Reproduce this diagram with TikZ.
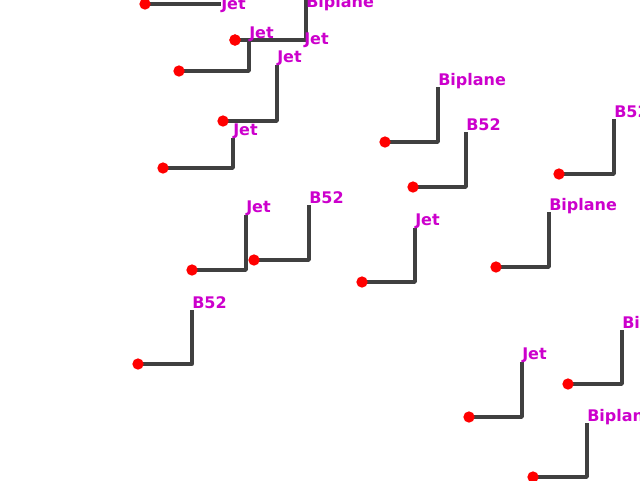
\documentclass[tikz,border=0pt]{standalone}
\usepackage{fontspec}
\setsansfont{DejaVu Sans}
\usetikzlibrary{positioning}
\definecolor{leadgray}{HTML}{404040}
\definecolor{tagpink}{HTML}{CC00CC}
\begin{document}
\begin{tikzpicture}[x=0.75pt,y=-0.75pt,line join=round,
    leader/.style={draw=leadgray,line width=2.5pt},
    blip/.style={circle,fill=red,inner sep=0pt,minimum size=8.5pt},
    tag/.style={anchor=base west,inner sep=0pt,text=tagpink,yshift=0.75pt,
      font=\sffamily\bfseries\fontsize{12}{12}\selectfont}]
  \clip (0,0) rectangle (640,480);
  % dot x/y, corner x, top y, label baseline y, kind
  \def\planes{1/145/4/221/4/10/Jet, 2/235/40/304/40/45/Jet, 3/235/40/306/-5/8/Biplane,
    4/179/71/249/41/39/Jet, 5/223/121/277/65/63/Jet, 6/163/168/233/138/136/Jet,
    7/385/142/438/87/86/Biplane, 8/413/187/466/132/131/B52, 9/559/174/614/119/118/B52,
    10/192/270/246/215/213/Jet, 11/254/260/309/205/204/B52, 12/362/282/415/228/226/Jet,
    13/138/364/192/310/309/B52, 14/496/267/549/212/211/Biplane, 15/568/384/622/330/329/Biplane,
    16/469/417/522/362/360/Jet, 17/533/477/587/423/422/Biplane}
  \foreach \n/\x/\y/\cx/\ty/\ly/\kind in \planes {
    \coordinate (p\n) at (\x,\y);
    \coordinate (k\n) at (\cx,\ty);
    \draw[leader] (p\n) -| (k\n);
  }
  \foreach \n/\x/\y/\cx/\ty/\ly/\kind in \planes {
    \node[blip] (b\n) at (p\n) {};
    \node[tag] (t\n) at (\cx,\ly) {\kind};
  }
\end{tikzpicture}
\end{document}
